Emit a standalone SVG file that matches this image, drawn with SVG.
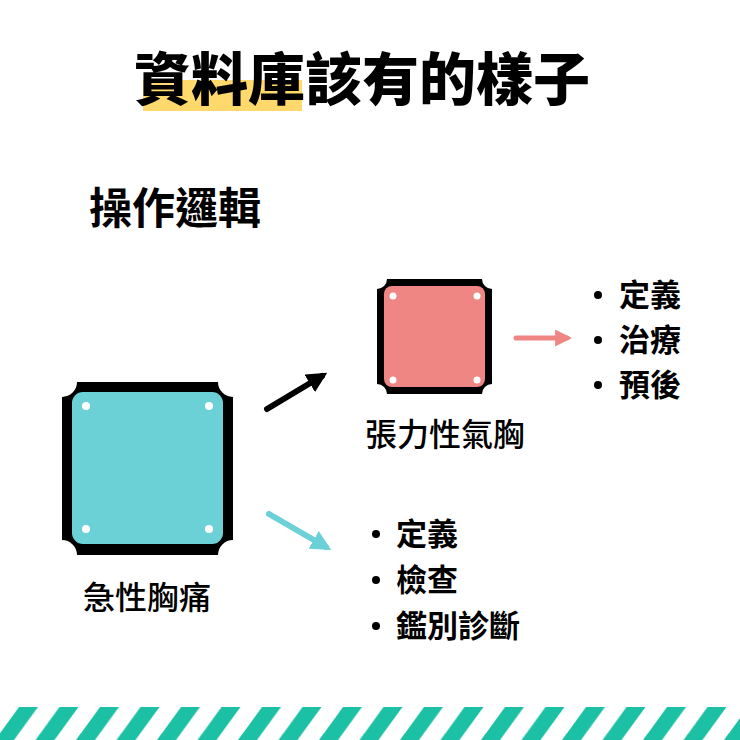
<svg xmlns="http://www.w3.org/2000/svg" width="740" height="740" viewBox="0 0 740 740">
<defs>
<style>
text{font-family:"Noto Sans CJK TC","Noto Sans CJK SC",sans-serif;fill:#000}
.title{font-size:57px;font-weight:900}
.sub{font-size:43px;font-weight:700}
.lbl{font-size:32px;font-weight:500}
.item{font-size:31px;font-weight:700}
.dot{fill:#fff}
.bul{fill:#000}
</style>
<marker id="hk" viewBox="0 0 10 10" refX="7" refY="5" markerWidth="3.4" markerHeight="3.4" orient="auto" markerUnits="strokeWidth"><path d="M0,0 L10,5 L0,10 Z" fill="#000"/></marker>
<marker id="ht" viewBox="0 0 10 10" refX="7" refY="5" markerWidth="3.4" markerHeight="3.4" orient="auto" markerUnits="strokeWidth"><path d="M0,0 L10,5 L0,10 Z" fill="#6BD1D6"/></marker>
<marker id="hp" viewBox="0 0 10 10" refX="7" refY="5" markerWidth="3.4" markerHeight="3.4" orient="auto" markerUnits="strokeWidth"><path d="M0,0 L10,5 L0,10 Z" fill="#EF8683"/></marker>
<pattern id="stripes" patternUnits="userSpaceOnUse" x="0" y="707" width="40.5" height="33">
<polygon points="19,0 38,0 14,33 -5,33" fill="#1CC1A5"/>
<polygon points="59.5,0 78.5,0 54.5,33 35.5,33" fill="#1CC1A5"/>
<polygon points="-21.5,0 -2.5,0 -26.5,33 -45.5,33" fill="#1CC1A5"/>
</pattern>
</defs>
<rect width="740" height="740" fill="#fff"/>
<rect x="143" y="80" width="159" height="31" fill="#FFD96B"/>
<text class="title" x="362" y="100" text-anchor="middle">資料庫該有的樣子</text>
<text class="sub" x="89" y="224">操作邏輯</text>
<g id="node-chest-pain">
<path d="M77,382 H218 A15,15 0 0 0 233,397 V540 A15,15 0 0 0 218,555 H77 A15,15 0 0 0 62,540 V397 A15,15 0 0 0 77,382 Z" fill="#000"/>
<rect x="72" y="392" width="151" height="152" rx="11" fill="#6BD1D6"/>
<circle class="dot" cx="86" cy="406" r="4"/>
<circle class="dot" cx="209" cy="406" r="4"/>
<circle class="dot" cx="86" cy="529" r="4"/>
<circle class="dot" cx="209" cy="529" r="4"/>
<text class="lbl" x="147" y="609" text-anchor="middle">急性胸痛</text>
</g>
<g id="node-pneumothorax">
<path d="M387,279 H482 A10,10 0 0 0 492,289 V384 A10,10 0 0 0 482,394 H387 A10,10 0 0 0 377,384 V289 A10,10 0 0 0 387,279 Z" fill="#000"/>
<rect x="384" y="286" width="101" height="101" rx="8" fill="#EF8683"/>
<circle class="dot" cx="393" cy="296" r="3.5"/>
<circle class="dot" cx="477" cy="296" r="3.5"/>
<circle class="dot" cx="393" cy="380" r="3.5"/>
<circle class="dot" cx="477" cy="380" r="3.5"/>
<text class="lbl" x="445" y="446" text-anchor="middle">張力性氣胸</text>
</g>
<g id="list-top">
<circle class="bul" cx="598" cy="295" r="4"/>
<circle class="bul" cx="598" cy="340" r="4"/>
<circle class="bul" cx="598" cy="385" r="4"/>
<text class="item" x="619" y="306">定義</text>
<text class="item" x="619" y="351">治療</text>
<text class="item" x="619" y="396">預後</text>
</g>
<g id="list-bottom">
<circle class="bul" cx="376" cy="534" r="4"/>
<circle class="bul" cx="376" cy="580" r="4"/>
<circle class="bul" cx="376" cy="626" r="4"/>
<text class="item" x="396" y="545">定義</text>
<text class="item" x="396" y="591">檢查</text>
<text class="item" x="396" y="637">鑑別診斷</text>
</g>
<g id="connectors" fill="none" stroke-linecap="round">
<line x1="267" y1="409" x2="322" y2="376" stroke="#000" stroke-width="6" marker-end="url(#hk)"/>
<line x1="269" y1="514" x2="326" y2="547" stroke="#6BD1D6" stroke-width="6" marker-end="url(#ht)"/>
<line x1="516" y1="338" x2="567" y2="338" stroke="#EF8683" stroke-width="5" marker-end="url(#hp)"/>
</g>
<rect x="0" y="707" width="740" height="33" fill="url(#stripes)"/>
</svg>
